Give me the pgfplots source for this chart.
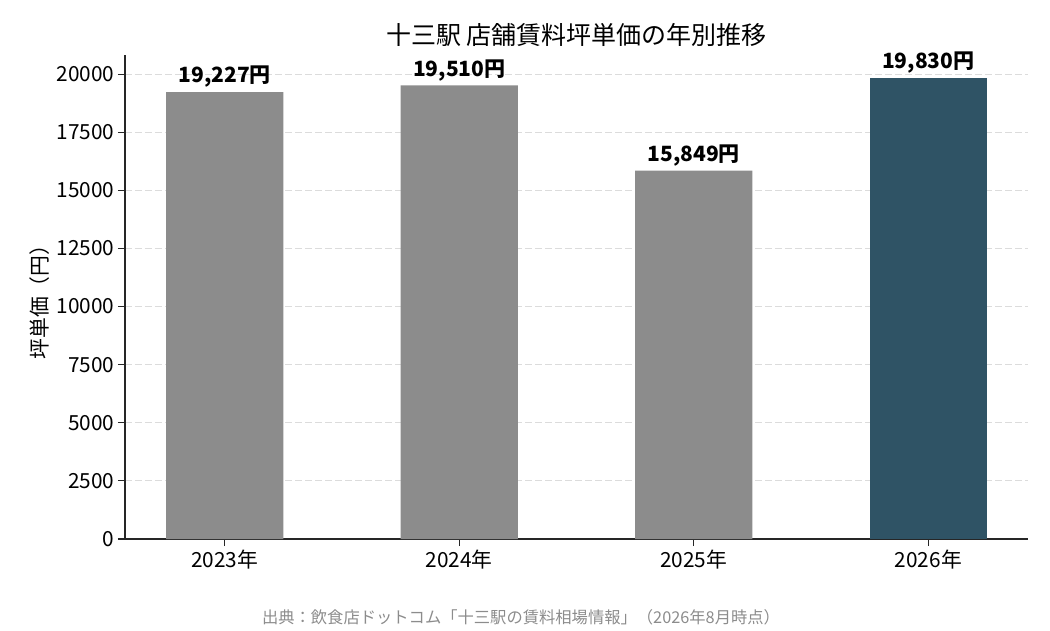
\documentclass[border=0pt]{standalone}
\usepackage{fontspec}
\setmainfont{Noto Sans CJK JP}
\usepackage{pgfplots}
\pgfplotsset{compat=1.18}
\definecolor{bargray}{RGB}{140,140,140}
\definecolor{bardark}{RGB}{47,83,101}
\definecolor{gridc}{RGB}{220,220,220}
\begin{document}
\begin{tikzpicture}[x=1pt,y=1pt]
\path[use as bounding box] (0,0) rectangle (1050,630);
\begin{axis}[
  at={(125pt,91pt)}, anchor=south west,
  scale only axis, width=903pt, height=484pt,
  xmin=-0.425, xmax=3.425, ymin=0, ymax=20821.5,
  axis x line*=bottom, axis y line*=left,
  axis line style={line width=1.2pt, black!85},
  xtick={0,1,2,3}, xticklabels={2023年,2024年,2025年,2026年},
  ytick={0,2500,5000,7500,10000,12500,15000,17500,20000},
  scaled y ticks=false,
  yticklabel style={/pgf/number format/1000 sep={}},
  /pgf/number format/assume math mode=true,
  tick label style={font=\fontsize{20.8}{24}\selectfont, black},
  tick align=outside, tick pos=left,
  major tick length=7pt,
  tick style={line width=1.1pt, black!85},
  ymajorgrids, grid style={gridc, dashed, line width=1.1pt, dash pattern=on 7pt off 3pt},
  ylabel={坪単価（円）}, ylabel style={font=\fontsize{20.8}{24}\selectfont},
  title={十三駅 店舗賃料坪単価の年別推移},
  title style={font=\fontsize{25}{28}\selectfont, yshift=-1.5pt},
  ybar, bar width=0.5,
  nodes near coords={\pgfmathprintnumber[1000 sep={,}, fixed, precision=0]{\pgfplotspointmeta}円},
  nodes near coords style={font=\fontsize{21}{24}\selectfont\bfseries, black, anchor=south, yshift=1pt},
  point meta=explicit,
]
\addplot[fill=bargray, draw=none, bar shift=0] coordinates {(0,19227) [19227] (1,19510) [19510] (2,15849) [15849]};
\addplot[fill=bardark, draw=none, bar shift=0] coordinates {(3,19830) [19830]};
\end{axis}
\node[font=\fontsize{16.3}{20}\selectfont, text=black!45] at (521,13) {出典：飲食店ドットコム「十三駅の賃料相場情報」（2026年8月時点）};
\end{tikzpicture}
\end{document}
